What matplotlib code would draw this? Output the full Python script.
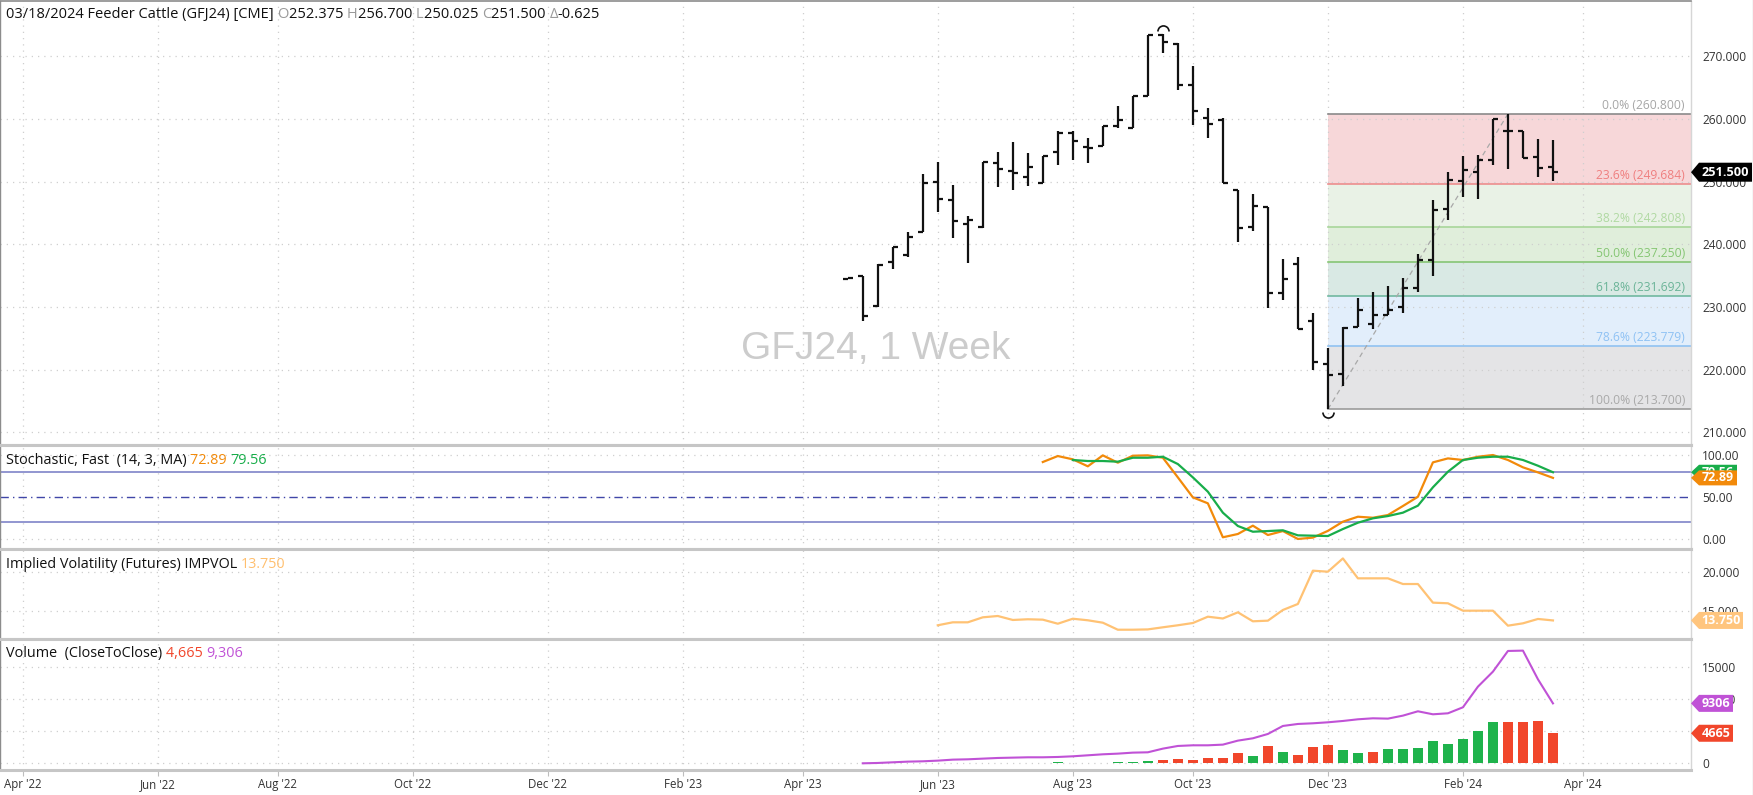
#------------------------------Librerias----------------------------------------
import numpy as np
import matplotlib
matplotlib.use('Agg')
import matplotlib.pyplot as plt
from matplotlib.path import Path
from matplotlib.patches import Polygon
from matplotlib.lines import Line2D
from matplotlib.transforms import IdentityTransform
#-------------------------------------------------------------------------------

plt.rcParams['font.family'] = ['Open Sans', 'DejaVu Sans']

#------------------------------Datos (GFJ24 semanal)-----------------------------
inicio = np.datetime64('2023-04-24')
fechas = inicio + np.arange(48) * np.timedelta64(7, 'D')

apertura = [234.5, 234.9, 230.2, 237.2, 238.3, 242.0, 249.9, 247.1, 243.2, 242.8,
            252.9, 251.7, 250.8, 249.8, 254.8, 257.8, 255.5, 255.7, 258.8, 258.6,
            263.7, 273.4, 272.0, 265.4, 260.1, 259.9, 248.7, 242.7, 246.0, 232.3,
            236.9, 227.7, 220.9, 219.3, 226.8, 227.3, 228.8, 230.0, 233.0, 237.5,
            245.6, 250.1, 251.6, 253.5, 258.0, 258.0, 254.0, 252.375]
maximo = [234.7, 235.0, 236.8, 239.6, 242.0, 251.2, 253.2, 249.5, 244.5, 253.2,
          254.7, 256.3, 254.5, 254.1, 258.1, 258.1, 256.9, 258.8, 262.0, 263.7,
          273.4, 273.5, 272.1, 268.5, 261.8, 260.1, 248.7, 248.1, 246.0, 237.6,
          237.9, 229.1, 223.4, 226.8, 231.4, 232.4, 233.4, 234.7, 238.5, 247.0,
          251.6, 254.1, 254.3, 260.0, 260.8, 258.1, 256.8, 256.7]
minimo = [234.4, 227.8, 230.0, 236.0, 237.9, 242.0, 245.1, 241.0, 237.0, 242.6,
          249.1, 248.7, 249.3, 249.8, 252.6, 253.5, 252.9, 255.6, 258.5, 258.5,
          263.6, 270.5, 264.6, 259.0, 256.9, 249.7, 240.4, 242.2, 229.8, 231.2,
          226.5, 219.9, 213.7, 217.4, 226.8, 226.5, 228.7, 229.0, 232.4, 234.9,
          243.9, 247.6, 247.2, 252.7, 252.0, 253.8, 250.8, 250.025]
cierre = [234.6, 228.6, 236.7, 239.5, 241.2, 249.7, 247.3, 243.7, 243.8, 253.1,
          252.0, 251.3, 252.4, 254.1, 257.7, 256.5, 255.3, 258.8, 259.8, 263.7,
          273.4, 272.2, 265.4, 261.3, 259.2, 249.7, 242.6, 246.1, 232.3, 234.4,
          226.5, 221.2, 219.2, 226.6, 229.5, 228.8, 229.6, 233.0, 237.5, 245.5,
          250.3, 251.9, 253.5, 260.0, 258.0, 253.8, 252.1, 251.5]

volumen = [10, 10, 10, 10, 10, 90, 110, 100, 80, 120,
           110, 90, 120, 100, 130, 90, 110, 104, 207, 259,
           414, 466, 621, 569, 776, 776, 1656, 1190, 2692, 1812,
           1294, 2484, 2795, 2122, 1656, 1760, 2226, 2226, 2381, 3468,
           2950, 3778, 5072, 6366, 6470, 6470, 6625, 4665]
interes = [None, 0, 52, 155, 259, 311, 414, 569, 621, 725,
           828, 880, 932, 932, 983, 1087, 1242, 1398, 1501, 1656,
           1708, 2277, 2692, 2795, 2795, 2899, 3520, 3882, 4555, 5797,
           6108, 6211, 6366, 6573, 6832, 6988, 6936, 7402, 8075, 7609,
           7764, 8696, 11905, 14234, 17443, 17495, 13043, 9306]

# estocastico rapido (14,3) desde la semana 13 (%K) y 15 (%D)
stoch_k = [91.7, 98.8, 94.9, 86.6, 99.6, 90.9, 99.2, 99.6, 96.8, 73.5,
           49.8, 42.7, 2.4, 6.3, 16.2, 5.1, 9.8, 0.4, 2.0, 10.0,
           20.9, 26.8, 25.6, 28.8, 39.5, 50.5, 91.3, 96.0, 94.1, 98.0,
           100.0, 94.1, 85.4, 79.4, 72.89]
stoch_d = [94.1, 92.9, 92.9, 92.1, 96.8, 96.8, 98.0, 89.3, 73.5, 56.5,
           31.6, 15.8, 9.0, 9.8, 10.7, 4.7, 4.3, 3.9, 12.2, 19.7,
           24.9, 27.6, 31.6, 39.9, 61.7, 80.2, 94.1, 96.8, 98.0, 98.0,
           94.1, 87.3, 79.56]
# volatilidad implicita desde la semana 6
impvol = [13.13, 13.51, 13.51, 14.15, 14.32, 13.81, 13.90, 13.85, 13.33, 13.97,
          13.77, 13.46, 12.56, 12.56, 12.60, 12.87, 13.13, 13.42, 14.23, 14.00,
          14.79, 13.64, 13.72, 15.09, 15.86, 20.13, 20.00, 21.70, 19.15, 19.15,
          19.15, 18.42, 18.42, 16.03, 15.95, 15.00, 15.00, 15.00, 13.08, 13.38,
          13.94, 13.75]

meses = ['2022-04', '2022-06', '2022-08', '2022-10', '2022-12', '2023-02', '2023-04',
         '2023-06', '2023-08', '2023-10', '2023-12', '2024-02', '2024-04']
etiquetas_meses = ["Apr '22", "Jun '22", "Aug '22", "Oct '22", "Dec '22", "Feb '23", "Apr '23",
                   "Jun '23", "Aug '23", "Oct '23", "Dec '23", "Feb '24", "Apr '24"]

fib_ratios = [0.0, 0.236, 0.382, 0.5, 0.618, 0.786, 1.0]
fib_lineas = ['#8a8a8a', '#ec8e8e', '#a8d69a', '#86c574', '#70b8a0', '#90c2f2', '#9b9b9b']
fib_textos = ['#a6a6a6', '#ef7f7f', '#b0d9a2', '#85c673', '#6bb498', '#8fc2f4', '#a9a9a9']
fib_rellenos = ['#f7d7d9', '#e9f2e6', '#e0eedb', '#d9e9e4', '#e2eefb', '#e4e4e6']
#-------------------------------------------------------------------------------

#------------------------------Figura-------------------------------------------
W, H = 1753, 795
fig = plt.figure(figsize=(W / 100, H / 100), dpi=100)

def caja(top, bottom):
    return [0, 1 - bottom / H, 1691 / W, (bottom - top) / H]

ax_p = fig.add_axes(caja(1, 445))
ax_s = fig.add_axes(caja(445, 549), sharex=ax_p)
ax_v = fig.add_axes(caja(549, 639), sharex=ax_p)
ax_o = fig.add_axes(caja(639, 770), sharex=ax_p)
ejes = [ax_p, ax_s, ax_v, ax_o]

semana = (fechas - inicio).astype(int) / 7.0
primer_lunes = np.busday_offset(np.array(meses, dtype='datetime64[M]').astype('datetime64[D]'),
                                0, roll='forward', weekmask='Mon')
x_meses = (primer_lunes - inicio).astype(int) / 7.0

gris_txt = '#333333'
for ax in ejes:
    ax.set_xlim(-56.5, 56.2)
    ax.yaxis.tick_right()
    ax.tick_params(axis='y', length=0, pad=8.0, labelsize=8.6, labelcolor=gris_txt)
    ax.tick_params(axis='x', length=0, labelbottom=False)
    ax.set_xticks(x_meses)
    ax.grid(True, color='#cfcfcf', linestyle=(0, (1, 4)), linewidth=0.9)
    ax.set_axisbelow(True)
    for lado in ['top', 'bottom']:
        ax.spines[lado].set_color('#c6c6c6')
        ax.spines[lado].set_linewidth(2.2)
    ax.spines['left'].set_color('#8c8c8c')
    ax.spines['left'].set_linewidth(1.0)
    ax.spines['right'].set_color('#d6d6d6')
    ax.spines['right'].set_linewidth(1.0)
ax_p.spines['top'].set_color('#8c8c8c')
ax_p.spines['top'].set_linewidth(1.2)

#------------------------------Precio (barras OHLC)-----------------------------
ax_p.set_ylim(208.0, 278.8)
ax_p.set_yticks(np.arange(210, 271, 10))
ax_p.set_yticklabels([f'{v:.3f}' for v in np.arange(210, 271, 10)])

i_lo = int(np.argmin(minimo))
i_hi = i_lo + int(np.argmax(maximo[i_lo:]))
p_hi, p_lo = maximo[i_hi], minimo[i_lo]
fib_precios = [p_hi - r * (p_hi - p_lo) for r in fib_ratios]
x_der = ax_p.get_xlim()[1]
for k in range(len(fib_ratios) - 1):
    ax_p.fill_between([semana[i_lo], x_der], fib_precios[k], fib_precios[k + 1],
                      color=fib_rellenos[k], linewidth=0, zorder=0.5)
for r, pr, cl, ct in zip(fib_ratios, fib_precios, fib_lineas, fib_textos):
    ax_p.plot([semana[i_lo], x_der], [pr, pr], color=cl, lw=1.2, zorder=0.8)
    ax_p.annotate(f'{r * 100:.1f}% ({pr:.3f})', xy=(1, pr), xycoords=('axes fraction', 'data'),
                  xytext=(-6, 2), textcoords='offset pixels', ha='right', va='bottom',
                  fontsize=8.7, color=ct)
ax_p.plot([semana[i_lo], semana[i_hi]], [p_lo, p_hi], color='#a8a8a8', lw=0.9,
          linestyle=(0, (4, 3)), zorder=1)

tic = 0.33
ax_p.vlines(semana, minimo, maximo, color='#111111', lw=1.6, zorder=3)
ax_p.hlines(apertura, semana - tic, semana, color='#111111', lw=1.6, zorder=3)
ax_p.hlines(cierre, semana, semana + tic, color='#111111', lw=1.6, zorder=3)

i_top = int(np.argmax(maximo))
arco_sup = Path.arc(0, 180)
arco_inf = Path.arc(180, 360)
ax_p.plot(semana[i_top], maximo[i_top] + 0.5, marker=arco_sup, markersize=8,
          markerfacecolor='none', markeredgecolor='#111111', markeredgewidth=1.2, zorder=4)
ax_p.plot(semana[i_lo], p_lo - 0.5, marker=arco_inf, markersize=8,
          markerfacecolor='none', markeredgecolor='#111111', markeredgewidth=1.2, zorder=4)

ax_p.text(0.518, 0.216, 'GFJ24, 1 Week', transform=ax_p.transAxes, ha='center', va='center',
          fontsize=28, color='#cccccc', family='Liberation Sans', zorder=0.3)

#------------------------------Estocastico--------------------------------------
ax_s.set_ylim(-11.5, 111.9)
ax_s.set_yticks([0, 50, 100])
ax_s.set_yticklabels(['0.00', '50.00', '100.00'])
ax_s.yaxis.grid(False)
for v in [0, 100]:
    ax_s.axhline(v, color='#cfcfcf', linestyle=(0, (1, 4)), linewidth=0.9, zorder=0)
ax_s.axhline(80, color='#7f84c8', lw=1.2)
ax_s.axhline(20, color='#7f84c8', lw=1.2)
ax_s.axhline(50, color='#4046a8', lw=1.0, linestyle=(0, (6, 3, 1, 3)))
ax_s.plot(semana[48 - len(stoch_k):], stoch_k, color='#f28a0a', lw=1.6)
ax_s.plot(semana[48 - len(stoch_d):], stoch_d, color='#18ad4a', lw=1.6)

#------------------------------Volatilidad implicita----------------------------
ax_v.set_ylim(11.37, 22.91)
ax_v.set_yticks([15, 20])
ax_v.set_yticklabels(['15.000', '20.000'])
ax_v.plot(semana[48 - len(impvol):], impvol, color='#ffc274', lw=1.6)

#------------------------------Volumen------------------------------------------
ax_o.set_ylim(-1040, 19300)
ax_o.set_yticks([0, 5000, 10000, 15000])
ax_o.set_yticklabels(['0', '5000', '10000', '15000'])
cambio = np.diff(np.r_[cierre[0], cierre])
colores = ['#f1462b' if c < 0 else '#1fb34c' for c in cambio]
ax_o.bar(semana, volumen, width=0.66, color=colores, zorder=2)
ax_o.plot(semana, [np.nan if v is None else v for v in interes], color='#c052d6', lw=1.5, zorder=3)
ax_o.tick_params(axis='x', length=4, color='#bdbdbd', labelbottom=True, labelsize=8.3,
                 labelcolor=gris_txt, pad=2)
ax_o.set_xticklabels(etiquetas_meses)

#------------------------------Textos de cabecera-------------------------------
def rainbow(ax, piezas, dy, size):
    prev = ax.annotate(piezas[0][0], xy=(0, 1), xycoords='axes fraction', xytext=(6, dy),
                       textcoords='offset pixels', ha='left', va='bottom', fontsize=size,
                       color=piezas[0][1], zorder=6)
    for txt, col in piezas[1:]:
        prev = ax.annotate(txt, xy=(1, 0), xycoords=prev, ha='left', va='bottom',
                           fontsize=size, color=col, zorder=6)

g = '#9a9a9a'
k = '#111111'
rainbow(ax_p, [('03/18/2024 Feeder Cattle (GFJ24) [CME] ', k), ('O', g), ('252.375 ', k),
               ('H', g), ('256.700 ', k), ('L', g), ('250.025 ', k), ('C', g),
               ('251.500 ', k), ('Δ', g), ('-0.625', k)], -21, 10.5)
rainbow(ax_s, [('Stochastic, Fast  (14, 3, MA) ', k), ('72.89 ', '#f28a0a'),
               ('79.56', '#18ad4a')], -23, 10.4)
rainbow(ax_v, [('Implied Volatility (Futures) IMPVOL ', k), ('13.750', '#ffbf6e')], -23, 10.4)
rainbow(ax_o, [('Volume  (CloseToClose) ', k), ('4,665 ', '#f1462b'),
               ('9,306', '#c052d6')], -22, 10.4)

#------------------------------Etiquetas de ultimo valor------------------------
capa = [5]

def etiqueta(ax, valor, texto, color, ancho, alto=8.5, tam=9):
    y = ax.transData.transform((0, valor))[1]
    x0 = 1691
    pts = [(x0, y), (x0 + 8, y + alto), (x0 + ancho, y + alto), (x0 + ancho, y - alto), (x0 + 8, y - alto)]
    fig.patches.append(Polygon(pts, closed=True, transform=IdentityTransform(), facecolor=color,
                               edgecolor='none', figure=fig, zorder=capa[0]))
    fig.text(x0 + 4 + ancho / 2, y, texto, transform=IdentityTransform(), color='white',
             fontweight='bold', fontsize=tam, ha='center', va='center', zorder=capa[0] + 0.5)
    capa[0] += 1

etiqueta(ax_p, cierre[-1], f'{cierre[-1]:.3f}', '#000000', 61, 9.5, 9.2)
etiqueta(ax_s, stoch_d[-1], f'{stoch_d[-1]:.2f}', '#18ad4a', 46, 7.5)
etiqueta(ax_s, stoch_k[-1], f'{stoch_k[-1]:.2f}', '#f28a0a', 46, 7.5)
etiqueta(ax_v, impvol[-1], f'{impvol[-1]:.3f}', '#ffc57e', 52)
etiqueta(ax_o, interes[-1], f'{interes[-1]}', '#c052d6', 42)
etiqueta(ax_o, volumen[-1], f'{volumen[-1]}', '#f1462b', 42)

fig.add_artist(Line2D([1752.5 / W] * 2, [0, 1], color='#d0d0d0', lw=1))

fig.savefig('out.png', dpi=100)
#-------------------------------------------------------------------------------
